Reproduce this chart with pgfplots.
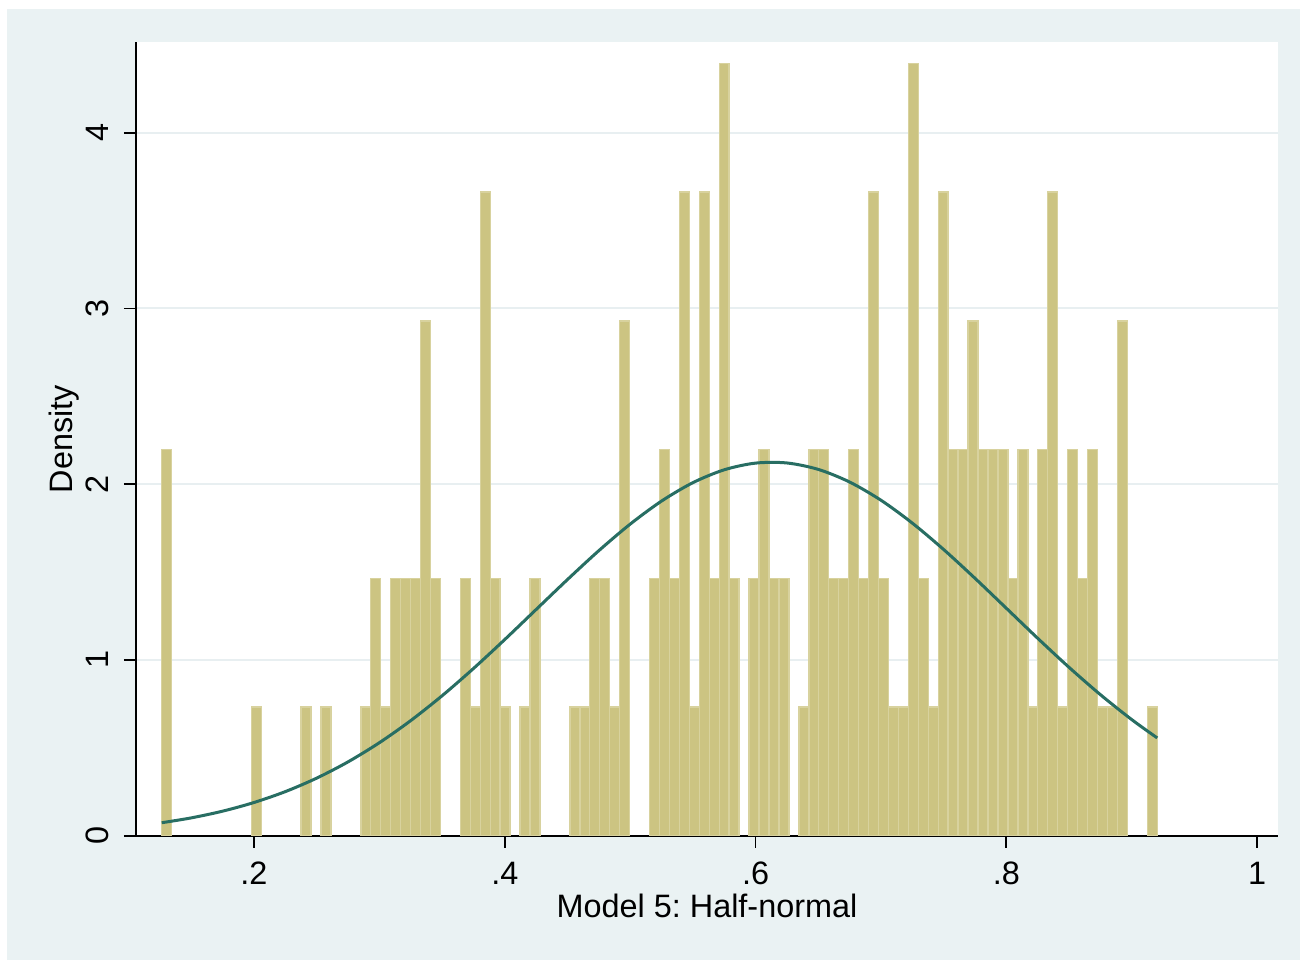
\documentclass[border=0pt]{standalone}
\usepackage{fontspec}
\setmainfont{Liberation Sans}
\usepackage{pgfplots}
\pgfplotsset{compat=1.18}

\definecolor{stbg}{RGB}{234,242,243}
\definecolor{barfill}{RGB}{204,196,130}
\definecolor{baredge}{RGB}{216,210,158}
\definecolor{normline}{RGB}{40,110,99}
\definecolor{gridc}{RGB}{232,239,241}
\newcommand\stfont{\fontsize{16.2}{19}\selectfont\frenchspacing}

% histogram: bin centres and densities (100 bins, width 0.007939)
\pgfplotstableread{
x        d
0.13037  2.1969
0.20182  0.7323
0.24152  0.7323
0.25739  0.7323
0.28915  0.7323
0.29709  1.4646
0.30503  0.7323
0.31297  1.4646
0.32091  1.4646
0.32885  1.4646
0.33678  2.9292
0.34472  1.4646
0.36854  1.4646
0.37648  0.7323
0.38442  3.6615
0.39236  1.4646
0.40030  0.7323
0.41618  0.7323
0.42411  1.4646
0.45587  0.7323
0.46381  0.7323
0.47175  1.4646
0.47969  1.4646
0.48763  0.7323
0.49556  2.9292
0.51938  1.4646
0.52732  2.1969
0.53526  1.4646
0.54320  3.6615
0.55114  0.7323
0.55908  3.6615
0.56701  1.4646
0.57495  4.3938
0.58289  1.4646
0.59877  1.4646
0.60671  2.1969
0.61465  1.4646
0.62259  1.4646
0.63847  0.7323
0.64641  2.1969
0.65434  2.1969
0.66228  1.4646
0.67022  1.4646
0.67816  2.1969
0.68610  1.4646
0.69404  3.6615
0.70198  1.4646
0.70992  0.7323
0.71786  0.7323
0.72580  4.3938
0.73373  1.4646
0.74167  0.7323
0.74961  3.6615
0.75755  2.1969
0.76549  2.1969
0.77343  2.9292
0.78137  2.1969
0.78931  2.1969
0.79725  2.1969
0.80519  1.4646
0.81312  2.1969
0.82106  0.7323
0.82900  2.1969
0.83694  3.6615
0.84488  0.7323
0.85282  2.1969
0.86076  1.4646
0.86870  2.1969
0.87664  0.7323
0.88458  0.7323
0.89251  2.9292
0.91633  0.7323
}\histdata

\begin{document}
\begin{tikzpicture}
\useasboundingbox (-68pt,-62.15pt) rectangle (582pt,417.85pt);
\fill[white] (-68pt,-62.15pt) rectangle (582pt,417.85pt);
\fill[stbg] (-64.5pt,-62.15pt) rectangle (582pt,413.35pt);
\begin{axis}[
  at={(0,0)}, anchor=south west,
  scale only axis,
  width=571pt, height=396.7pt,
  xmin=0.1059, xmax=1.0166,
  ymin=0, ymax=4.514,
  axis background/.style={fill=white},
  axis x line*=bottom, axis y line*=left,
  axis line style={-, black, line width=0.9pt},
  xtick={0.2,0.4,0.6,0.8,1},
  xticklabels={.2,.4,.6,.8,1},
  ytick={0,1,2,3,4},
  tick align=outside,
  major tick length=6pt,
  tick style={black, line width=0.9pt},
  ymajorgrids,
  grid style={gridc, line width=1pt},
  /pgf/number format/assume math mode=true,
  ticklabel style={font=\stfont},
  xticklabel style={inner sep=0pt, yshift=-7pt, anchor=north},
  yticklabel style={rotate=90, anchor=south, inner xsep=0pt, inner ysep=7.6pt},
  xlabel={Model 5: Half-normal},
  ylabel={Density},
  label style={font=\stfont},
  xlabel style={at={(axis description cs:0.5,-0.1025)}, anchor=base},
  ylabel style={at={(axis description cs:-0.0552,0.5)}, anchor=base, rotate=0},
]
\addplot[ybar, bar width=0.007939, bar shift=0pt, fill=barfill,
  draw=baredge, line width=0.7pt] table[x=x, y=d] {\histdata};

\addplot[smooth, normline, line width=1.5pt] coordinates {
  (0.1264,0.0738) (0.150,0.1014) (0.175,0.1397) (0.200,0.1889)
  (0.225,0.2509) (0.250,0.3276) (0.275,0.4201) (0.300,0.5292)
  (0.325,0.6550) (0.350,0.7963) (0.375,0.9512) (0.400,1.1163)
  (0.425,1.2870) (0.450,1.4575) (0.475,1.6218) (0.500,1.7728)
  (0.525,1.9039) (0.550,2.0086) (0.575,2.0819) (0.600,2.1199)
  (0.625,2.1207) (0.650,2.0841) (0.675,2.0122)
  (0.700,1.9086) (0.725,1.7785) (0.750,1.6281) (0.775,1.4643)
  (0.800,1.2938) (0.825,1.1230) (0.850,0.9577) (0.875,0.8023)
  (0.900,0.6603) (0.9203,0.5563)
};
\end{axis}
\end{tikzpicture}
\end{document}
